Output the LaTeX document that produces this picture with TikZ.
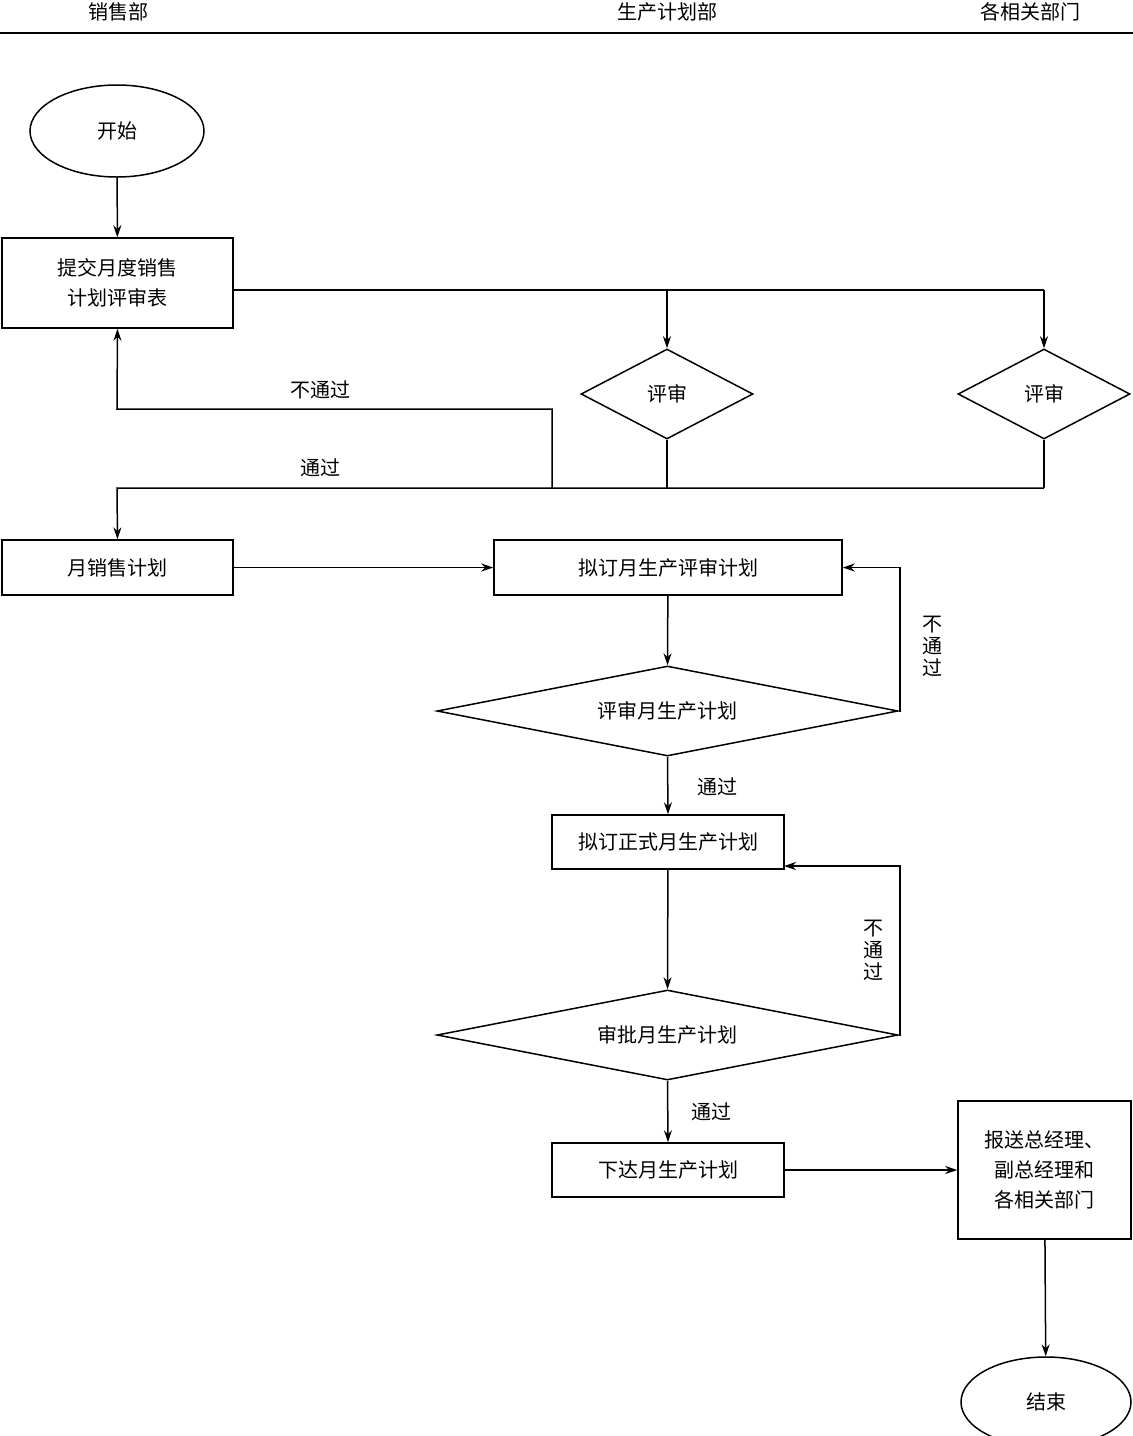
\documentclass[tikz,border=0pt]{standalone}
\usepackage{fontspec}
\newfontfamily\cjk{Noto Sans CJK SC}
\usetikzlibrary{shapes.geometric,arrows.meta}
\begin{document}
\begin{tikzpicture}[x=1pt,y=-1pt,
  every node/.style={font=\cjk\fontsize{20}{30}\selectfont},
  box/.style={draw,line width=1.5pt,rectangle,inner sep=0pt,align=center},
  dia/.style={draw,line width=1.5pt,diamond,inner sep=0pt,aspect=1},
  ell/.style={draw,line width=1.5pt,ellipse,inner sep=0pt},
  ln/.style={line width=1.5pt},
  ar/.style={line width=1.5pt,-{Stealth[length=12pt,width=8pt]}},
  lbl/.style={draw=none,font=\cjk\fontsize{20}{24}\selectfont}]
\useasboundingbox (0,0) rectangle (1133,1436);
\node[lbl] (h1) at (118,12) {销售部};
\node[lbl] (h2) at (667,12) {生产计划部};
\node[lbl] (h3) at (1030,12) {各相关部门};
\draw[ln] (0,33) -- (1133,33);
\node[ell,minimum width=174,minimum height=92] (start) at (117,131) {开始};
\node[box,minimum width=231,minimum height=90] (b1) at (117.5,283) {提交月度销售\\计划评审表};
\node[dia,minimum width=172,minimum height=90,aspect=1.9] (d1) at (667,394) {评审};
\node[dia,minimum width=172,minimum height=90,aspect=1.9] (d2) at (1044,394) {评审};
\node[box,minimum width=231,minimum height=55] (b2) at (117.5,567.5) {月销售计划};
\node[box,minimum width=348,minimum height=55] (b3) at (668,567.5) {拟订月生产评审计划};
\node[dia,minimum width=461,minimum height=90,aspect=5.1] (d3) at (667.5,711) {评审月生产计划};
\node[box,minimum width=232,minimum height=54] (b4) at (668,842) {拟订正式月生产计划};
\node[dia,minimum width=461,minimum height=90,aspect=5.1] (d4) at (667.5,1035) {审批月生产计划};
\node[box,minimum width=232,minimum height=54] (b5) at (668,1170) {下达月生产计划};
\node[box,minimum width=173,minimum height=138] (b6) at (1044.5,1170) {报送总经理、\\副总经理和\\各相关部门};
\node[ell,minimum width=170,minimum height=90] (end) at (1046,1402) {结束};
\coordinate (s1) at (667,290);
\coordinate (s2) at (1044,290);
\coordinate (m) at (552,488);
\coordinate (e2) at (1044,488);
\draw[ar] (start) -- (b1);
\draw[ln] (b1.east |- s1) -- (s2);
\draw[ar] (s1) -- (d1.north);
\draw[ar] (s2) -- (d2.north);
\draw[ln] (d1.south) -- (d1.south |- m);
\draw[ln] (d2.south) -- (e2);
\draw[ar] (e2) -- (117,488) -- (b2.north);
\draw[ar] (m) -- (552,409) -- (117,409) -- (b1.south);
\node[lbl] (l1) at (320,390) {不通过};
\node[lbl] (l2) at (320,468) {通过};
\draw[ar] (b2) -- (b3);
\draw[ar] (b3) -- (d3.north);
\draw[ar] (d3.east) -- (900,711) -- (900,567.5) -- (b3.east);
\node[lbl,align=center,font=\cjk\fontsize{20}{22}\selectfont] (l3) at (932,646) {不\\通\\过};
\draw[ar] (d3.south) -- (b4.north);
\node[lbl] (l4) at (717,787) {通过};
\draw[ar] (b4) -- (d4.north);
\draw[ar] (d4.east) -- (900,1035) -- (900,866) -- (784,866);
\node[lbl,align=center,font=\cjk\fontsize{20}{22}\selectfont] (l5) at (873,950) {不\\通\\过};
\draw[ar] (d4.south) -- (b5.north);
\node[lbl] (l6) at (711,1112) {通过};
\draw[ar] (b5) -- (b6);
\draw[ar] (b6) -- (end);
\end{tikzpicture}
\end{document}
